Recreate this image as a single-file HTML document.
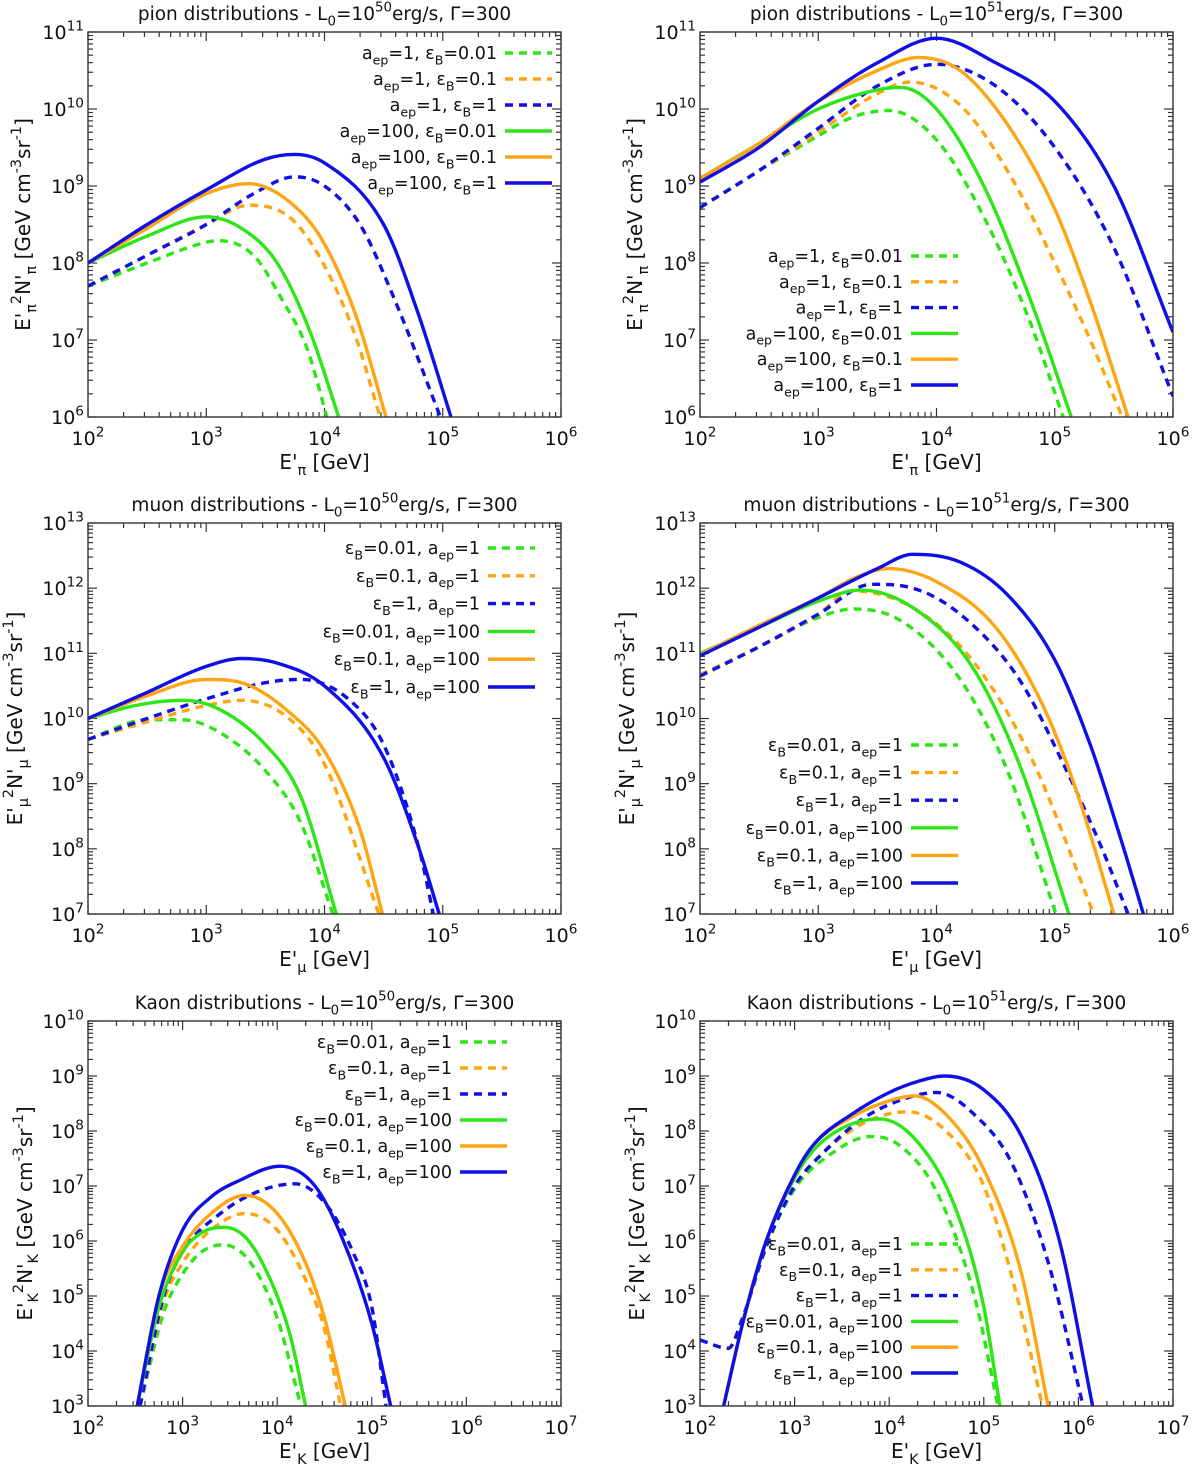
<!DOCTYPE html>
<html><head><meta charset="utf-8"><style>
html,body{margin:0;padding:0;background:#fff}
svg{display:block}
text{font-family:"DejaVu Sans","Liberation Sans",sans-serif;fill:#111}
</style></head><body>
<svg id="fig" width="1200" height="1469" viewBox="0 0 1200 1469" xmlns="http://www.w3.org/2000/svg"></svg>
<script>
// ---------- data (log10 E, log10 E^2 N) ----------
const p1_gd_x=[2,2.5,3,3.1,3.4,3.65,3.85,4.02], p1_gd_y=[7.7,8.0,8.27,8.29,8.1,7.5,6.9,6];
const p1_od_x=[2,2.5,3,3.36,3.7,3.95,4.25,4.47], p1_od_y=[7.7,8.1,8.5,8.75,8.6,8.1,7.1,6];
const p1_bd_x=[2,2.5,3,3.4,3.75,4,4.3,4.6,4.98], p1_bd_y=[7.7,8.1,8.5,8.9,9.12,9.0,8.5,7.5,6];
const p1_gs_x=[2,2.5,3,3.3,3.6,3.88,4.12], p1_gs_y=[8.0,8.35,8.6,8.45,8.0,7.1,6];
const p1_os_x=[2,2.5,3,3.36,3.7,3.98,4.27,4.52], p1_os_y=[8.0,8.45,8.9,9.03,8.8,8.3,7.3,6];
const p1_bs_x=[2,2.5,3,3.5,3.75,4,4.5,4.78,5.07], p1_bs_y=[8.0,8.5,8.95,9.35,9.41,9.3,8.5,7.4,6];
const p2_gd_x=[2,2.5,3,3.3,3.6,4,4.4,4.8,5.07], p2_gd_y=[8.72,9.2,9.65,9.9,9.98,9.6,8.6,7.2,6];
const p2_od_x=[2,2.5,3,3.5,3.78,4.2,4.6,5,5.3,5.57], p2_od_y=[8.72,9.2,9.7,10.2,10.35,10.05,9.2,8.0,7.0,6];
const p2_bd_x=[2,2.5,3,3.5,4,4.5,5,5.5,6], p2_bd_y=[8.72,9.2,9.75,10.3,10.58,10.3,9.5,8.2,6.27];
const p2_gs_x=[2,2.5,3,3.5,3.7,4,4.4,4.8,5.14], p2_gs_y=[9.1,9.55,10.0,10.25,10.28,10.0,9.0,7.5,6];
const p2_os_x=[2,2.5,3,3.5,3.85,4.2,4.6,5,5.3,5.62], p2_os_y=[9.1,9.55,10.1,10.5,10.67,10.5,9.8,8.7,7.5,6];
const p2_bs_x=[2,2.5,3,3.5,4,4.5,5,5.5,6], p2_bs_y=[9.05,9.5,10.1,10.6,10.92,10.6,10.1,9.0,7.1];
const p3_gd_x=[2,2.5,2.8,3.1,3.5,3.8,4.07], p3_gd_y=[9.68,9.98,9.98,9.8,9.2,8.4,7];
const p3_od_x=[2,2.5,3,3.3,3.7,4,4.46], p3_od_y=[9.68,9.95,10.2,10.28,10.0,9.3,7];
const p3_bd_x=[2,2.5,3,3.5,3.8,4.2,4.5,4.8,4.92], p3_bd_y=[9.68,10.0,10.3,10.55,10.6,10.3,9.6,8.0,7];
const p3_gs_x=[2,2.4,2.8,3.1,3.5,3.8,4.1], p3_gs_y=[10.0,10.2,10.28,10.15,9.6,8.8,7];
const p3_os_x=[2,2.5,3,3.3,3.7,4,4.3,4.49], p3_os_y=[10.0,10.35,10.6,10.55,10.1,9.5,8.3,7];
const p3_bs_x=[2,2.5,3,3.3,3.6,4,4.5,4.8,4.97], p3_bs_y=[10.0,10.4,10.8,10.92,10.85,10.5,9.4,8.0,7];
const p4_gd_x=[2,2.5,3,3.3,3.7,4.2,4.6,5.01], p4_gd_y=[10.67,11.1,11.55,11.68,11.5,10.6,9.2,7];
const p4_od_x=[2,2.5,3,3.28,3.8,4.3,4.8,5.33], p4_od_y=[10.67,11.1,11.6,11.96,11.7,10.9,9.4,7];
const p4_bd_x=[2,2.5,3,3.45,3.8,4.2,4.7,5.1,5.4,5.62], p4_bd_y=[10.65,11.1,11.6,12.06,12.0,11.6,10.6,9.2,8.0,7];
const p4_gs_x=[2,2.5,3,3.36,3.8,4.3,4.7,5.12], p4_gs_y=[11.0,11.4,11.8,11.97,11.7,10.8,9.3,7];
const p4_os_x=[2,2.5,3,3.3,3.6,4,4.5,4.9,5.2,5.5], p4_os_y=[10.98,11.43,11.85,12.15,12.3,12.1,11.4,10.2,8.8,7];
const p4_bs_x=[2,2.5,3,3.5,3.8,4.2,4.6,5,5.3,5.55,5.75], p4_bs_y=[10.96,11.4,11.85,12.3,12.52,12.4,11.9,10.9,9.6,8.2,7];
const p5_gd_x=[2.55,2.8,3,3.2,3.42,3.7,4,4.25], p5_gd_y=[3,4.7,5.4,5.8,5.93,5.65,4.6,3];
const p5_od_x=[2.55,2.8,3,3.3,3.66,4,4.3,4.5,4.67], p5_od_y=[3,4.9,5.6,6.2,6.5,6.2,5.3,4.4,3];
const p5_bd_x=[2.55,2.8,3,3.4,3.8,4.19,4.5,4.8,5,5.15], p5_bd_y=[3,5.0,5.8,6.5,6.9,7.04,6.7,5.8,4.8,3];
const p5_gs_x=[2.52,2.75,3,3.2,3.44,3.7,4,4.15,4.3], p5_gs_y=[3,4.8,5.8,6.15,6.25,6.0,5.0,4.2,3];
const p5_os_x=[2.52,2.75,3,3.3,3.66,4,4.3,4.5,4.72], p5_os_y=[3,5.0,5.9,6.5,6.83,6.5,5.6,4.6,3];
const p5_bs_x=[2.52,2.75,3,3.3,3.6,4.03,4.4,4.7,5,5.2], p5_bs_y=[3,5.0,6.2,6.8,7.1,7.36,7.0,6.0,4.5,3];
const p6_gd_x=[2,2.3,2.45,2.7,3,3.4,3.8,4.1,4.5,4.9,5.15], p6_gd_y=[4.2,4.05,4.6,5.9,6.95,7.6,7.9,7.75,6.9,5.0,3];
const p6_od_x=[2,2.3,2.45,2.7,3,3.4,3.8,4.2,4.6,5,5.35,5.62], p6_od_y=[4.2,4.05,4.6,5.9,7.0,7.75,8.2,8.35,8.0,7.0,5.0,3];
const p6_bd_x=[2,2.3,2.45,2.7,3,3.3,3.7,4.1,4.5,4.9,5.3,5.7,6.05], p6_bd_y=[4.2,4.05,4.6,5.9,7.0,7.6,8.2,8.55,8.7,8.3,7.4,5.5,3];
const p6_gs_x=[2.25,2.45,2.7,3,3.2,3.5,3.9,4.3,4.7,5,5.17], p6_gs_y=[3,4.5,6.0,7.15,7.65,8.05,8.22,7.8,6.6,4.8,3];
const p6_os_x=[2.25,2.45,2.7,3,3.2,3.6,4,4.27,4.6,5,5.4,5.68], p6_os_y=[3,4.5,6.0,7.2,7.75,8.25,8.55,8.64,8.3,7.3,5.4,3];
const p6_bs_x=[2.25,2.45,2.7,3,3.2,3.6,4,4.3,4.59,5,5.4,5.8,6.15], p6_bs_y=[3,4.5,6.0,7.2,7.75,8.3,8.7,8.9,9.0,8.75,7.9,6.0,3];

const legA=["a_{ep}=1, ε_{B}=0.01","a_{ep}=1, ε_{B}=0.1","a_{ep}=1, ε_{B}=1","a_{ep}=100, ε_{B}=0.01","a_{ep}=100, ε_{B}=0.1","a_{ep}=100, ε_{B}=1"];
const legB=["ε_{B}=0.01, a_{ep}=1","ε_{B}=0.1, a_{ep}=1","ε_{B}=1, a_{ep}=1","ε_{B}=0.01, a_{ep}=100","ε_{B}=0.1, a_{ep}=100","ε_{B}=1, a_{ep}=100"];

const G="#2ee617", O="#ffa514", B="#0f0fe6";
const NS="http://www.w3.org/2000/svg";
const svg=document.getElementById('fig');

function mk(tag,attrs,parent){const e=document.createElementNS(NS,tag);for(const k in attrs)e.setAttribute(k,attrs[k]);(parent||svg).appendChild(e);return e;}

function rich(parent,x,y,str,size,anchor,rot){
  const t=mk('text',{x:x,y:y,'font-size':size,'text-anchor':anchor||'start'},parent);
  if(rot)t.setAttribute('transform',rot);
  let i=0,shift=0;
  while(i<str.length){
    if((str[i]==='_'||str[i]==='^')&&str[i+1]==='{'){const mode=str[i];const j=str.indexOf('}',i);const s=str.slice(i+2,j);
      const d=(mode==='_'?0.3:-0.45)*size;
      const ts=mk('tspan',{dy:(d-shift),'font-size':size*0.72},t);ts.textContent=s;shift=d;i=j+1;}
    else{let j=i;while(j<str.length&&!((str[j]==='_'||str[j]==='^')&&str[j+1]==='{'))j++;
      const ts=mk('tspan',{dy:(-shift)},t);ts.textContent=str.slice(i,j);shift=0;i=j;}
  }
  return t;
}

function smoothPath(P){
  const n=P.length; if(n<2) return '';
  const d=[],m=[];
  for(let i=0;i<n-1;i++){d.push((P[i+1][1]-P[i][1])/(P[i+1][0]-P[i][0]));}
  m[0]=d[0]; m[n-1]=d[n-2];
  for(let i=1;i<n-1;i++){ m[i]=(d[i-1]*d[i]<=0)?0:(d[i-1]+d[i])/2; }
  for(let i=0;i<n-1;i++){ if(d[i]===0){m[i]=0;m[i+1]=0;continue;}
    const a=m[i]/d[i],b=m[i+1]/d[i],s=a*a+b*b; if(s>9){const t=3/Math.sqrt(s);m[i]=t*a*d[i];m[i+1]=t*b*d[i];} }
  let s='M'+P[0][0].toFixed(1)+','+P[0][1].toFixed(1);
  for(let i=0;i<n-1;i++){const h=(P[i+1][0]-P[i][0])/3;
    s+=' C'+(P[i][0]+h).toFixed(1)+','+(P[i][1]+m[i]*h).toFixed(1)+' '+(P[i+1][0]-h).toFixed(1)+','+(P[i+1][1]-m[i+1]*h).toFixed(1)+' '+P[i+1][0].toFixed(1)+','+P[i+1][1].toFixed(1);}
  return s;
}

function panel(cfg){
  const g=mk('g',{});
  
  
  const {L,R,T,Bm,x0,x1,y0,y1}=cfg;
  const sx=v=>L+(v-x0)/(x1-x0)*(R-L);
  const sy=v=>Bm-(v-y0)/(y1-y0)*(Bm-T);
  const ti=rich(g,(L+R)/2,T-12,cfg.title,18.5,'middle');
  
  
  const tk=mk('g',{stroke:'#333','stroke-width':1.2},g);
  
  
  for(let d=x0;d<=x1;d++){
    const X=sx(d);
    mk('line',{x1:X,y1:Bm,x2:X,y2:Bm-9},tk);mk('line',{x1:X,y1:T,x2:X,y2:T+9},tk);
    const lb=rich(g,X,Bm+28,"10^{"+d+"}",19,'middle');
    
    
    if(d<x1)for(let m=2;m<10;m++){const Xm=sx(d+Math.log10(m));mk('line',{x1:Xm,y1:Bm,x2:Xm,y2:Bm-5},tk);mk('line',{x1:Xm,y1:T,x2:Xm,y2:T+5},tk);}
  }
  for(let d=y0;d<=y1;d++){
    const Y=sy(d);
    mk('line',{x1:L,y1:Y,x2:L+9,y2:Y},tk);mk('line',{x1:R,y1:Y,x2:R-9,y2:Y},tk);
    const lb=rich(g,L-4,Y+7,"10^{"+d+"}",19,'end');
    
    
    if(d<y1)for(let m=2;m<10;m++){const Ym=sy(d+Math.log10(m));mk('line',{x1:L,y1:Ym,x2:L+5,y2:Ym},tk);mk('line',{x1:R,y1:Ym,x2:R-5,y2:Ym},tk);}
  }
  const xl=rich(g,(L+R)/2,Bm+52,cfg.xlabel,20,'middle');
  
  
  const yc=(T+Bm)/2, yx=cfg.ylx;
  const yl=rich(g,yx,yc,cfg.ylabel,20,'middle','rotate(-90 '+yx+' '+yc+')');
  
  
  const cid='c'+cfg.name;
  const cp=mk('clipPath',{id:cid},g);mk('rect',{x:L,y:T,width:R-L,height:Bm-T},cp);
  const sg=mk('g',{'clip-path':'url(#'+cid+')'},g);
  const cols=[G,O,B,G,O,B];
  cfg.series.forEach((s,i)=>{
    const P=s[0].map((xv,k)=>[sx(xv),sy(s[1][k])]);
    const pl=mk('path',{d:smoothPath(P),fill:'none',stroke:cols[i],'stroke-width':3.4,'stroke-linejoin':'round','stroke-dasharray':i<3?'8,6':'none'},sg);
    
    
  });
  const lg=mk('g',{},g);
  
  
  cfg.leg.forEach((txt,i)=>{
    const y=cfg.legY+i*cfg.legDy;
    const e=mk('g',{},lg);
    
    
    rich(e,cfg.legX,y+6,txt,17.5,'end');
    mk('line',{x1:cfg.legX+8,y1:y,x2:cfg.legX+55,y2:y,stroke:cols[i],'stroke-width':3.4,'stroke-dasharray':i<3?'8,6':'none'},e);
  });
  const fr=mk('rect',{x:L,y:T,width:R-L,height:Bm-T,fill:'none',stroke:'#333','stroke-width':1.4},g);
  
  
}
const sn=["curve-aep1-eB0.01","curve-aep1-eB0.1","curve-aep1-eB1","curve-aep100-eB0.01","curve-aep100-eB0.1","curve-aep100-eB1"];
const ypi="E'_{π}^{2}N'_{π} [GeV cm^{-3}sr^{-1}]", ymu="E'_{μ}^{2}N'_{μ} [GeV cm^{-3}sr^{-1}]", yk="E'_{K}^{2}N'_{K} [GeV cm^{-3}sr^{-1}]";
panel({name:'pion-L50',L:88,R:561,T:32,Bm:417,x0:2,x1:6,y0:6,y1:11,title:"pion distributions - L_{0}=10^{50}erg/s, Γ=300",xlabel:"E'_{π} [GeV]",ylabel:ypi,ylx:30,
  series:[[p1_gd_x,p1_gd_y],[p1_od_x,p1_od_y],[p1_bd_x,p1_bd_y],[p1_gs_x,p1_gs_y],[p1_os_x,p1_os_y],[p1_bs_x,p1_bs_y]],snames:sn,leg:legA,legX:497,legY:53,legDy:26});
panel({name:'pion-L51',L:700,R:1173,T:32,Bm:417,x0:2,x1:6,y0:6,y1:11,title:"pion distributions - L_{0}=10^{51}erg/s, Γ=300",xlabel:"E'_{π} [GeV]",ylabel:ypi,ylx:642,
  series:[[p2_gd_x,p2_gd_y],[p2_od_x,p2_od_y],[p2_bd_x,p2_bd_y],[p2_gs_x,p2_gs_y],[p2_os_x,p2_os_y],[p2_bs_x,p2_bs_y]],snames:sn,leg:legA,legX:903,legY:256,legDy:25.8});
panel({name:'muon-L50',L:88,R:561,T:523,Bm:914,x0:2,x1:6,y0:7,y1:13,title:"muon distributions - L_{0}=10^{50}erg/s, Γ=300",xlabel:"E'_{μ} [GeV]",ylabel:ymu,ylx:22,
  series:[[p3_gd_x,p3_gd_y],[p3_od_x,p3_od_y],[p3_bd_x,p3_bd_y],[p3_gs_x,p3_gs_y],[p3_os_x,p3_os_y],[p3_bs_x,p3_bs_y]],snames:sn,leg:legB,legX:480,legY:548,legDy:27.8});
panel({name:'muon-L51',L:700,R:1173,T:523,Bm:914,x0:2,x1:6,y0:7,y1:13,title:"muon distributions - L_{0}=10^{51}erg/s, Γ=300",xlabel:"E'_{μ} [GeV]",ylabel:ymu,ylx:634,
  series:[[p4_gd_x,p4_gd_y],[p4_od_x,p4_od_y],[p4_bd_x,p4_bd_y],[p4_gs_x,p4_gs_y],[p4_os_x,p4_os_y],[p4_bs_x,p4_bs_y]],snames:sn,leg:legB,legX:903,legY:745,legDy:27.6});
panel({name:'kaon-L50',L:88,R:561,T:1021,Bm:1406,x0:2,x1:7,y0:3,y1:10,title:"Kaon distributions - L_{0}=10^{50}erg/s, Γ=300",xlabel:"E'_{K} [GeV]",ylabel:yk,ylx:32,
  series:[[p5_gd_x,p5_gd_y],[p5_od_x,p5_od_y],[p5_bd_x,p5_bd_y],[p5_gs_x,p5_gs_y],[p5_os_x,p5_os_y],[p5_bs_x,p5_bs_y]],snames:sn,leg:legB,legX:452,legY:1042,legDy:26});
panel({name:'kaon-L51',L:700,R:1173,T:1021,Bm:1406,x0:2,x1:7,y0:3,y1:10,title:"Kaon distributions - L_{0}=10^{51}erg/s, Γ=300",xlabel:"E'_{K} [GeV]",ylabel:yk,ylx:644,
  series:[[p6_gd_x,p6_gd_y],[p6_od_x,p6_od_y],[p6_bd_x,p6_bd_y],[p6_gs_x,p6_gs_y],[p6_os_x,p6_os_y],[p6_bs_x,p6_bs_y]],snames:sn,leg:legB,legX:903,legY:1244,legDy:25.8});
</script>
</body></html>
